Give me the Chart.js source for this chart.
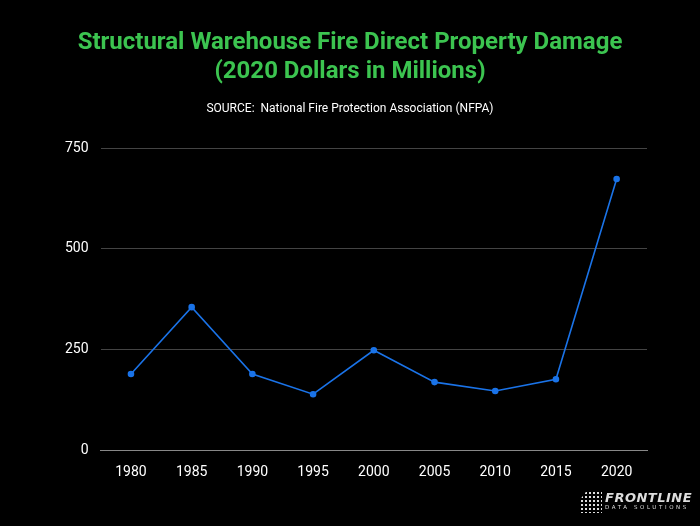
<!DOCTYPE html>
<html><head><meta charset="utf-8">
<script src="https://cdn.jsdelivr.net/npm/chart.js@4"></script>
<style>
html,body{margin:0;padding:0;background:#000;width:700px;height:526px;overflow:hidden}
#wrap{position:absolute;left:0;top:0;width:700px;height:526px}
#logo{position:absolute;left:605px;top:490px;color:#ddd;font-family:'DejaVu Sans',sans-serif}
#logo .a{font-size:13px;font-weight:bold;letter-spacing:0.5px;font-style:italic}
#logo .b{font-size:5.5px;letter-spacing:2.6px;margin-top:-1px}
#dots{position:absolute;left:580px;top:491px;width:22px;height:22px;
background-image:radial-gradient(#ddd 1.1px,transparent 1.4px);background-size:4px 4px;
clip-path:polygon(30% 0,100% 0,100% 100%,0 100%,0 40%)}
</style></head><body>
<div id="wrap"><canvas id="c" width="700" height="526"></canvas></div>
<div id="dots"></div>
<div id="logo"><div class="a">FRONTLINE</div><div class="b">DATA SOLUTIONS</div></div>
<script>
const years=['1980','1985','1990','1995','2000','2005','2010','2015','2020'];
const damage=[189,355,189,139,248,169,147,176,673];
const yTicks=[0,250,500,750];
new Chart(document.getElementById('c'),{
type:'line',
data:{labels:years,datasets:[{data:damage,borderColor:'#1a73e8',backgroundColor:'#1a73e8',borderWidth:1.6,pointRadius:2.5,pointHoverRadius:2.5,tension:0}]},
options:{responsive:false,animation:false,
layout:{padding:{left:53,right:53,top:0,bottom:39}},
plugins:{legend:{display:false},tooltip:{enabled:false},
title:{display:true,text:['Structural Warehouse Fire Direct Property Damage','(2020 Dollars in Millions)'],color:'#3cc450',font:{family:'Roboto',size:24,weight:'bold'},padding:{top:29,bottom:6},lineHeight:1.33},
subtitle:{display:true,text:'SOURCE:  National Fire Protection Association (NFPA)',color:'#fff',font:{family:'Roboto',size:12},padding:{top:9,bottom:32}}},
scales:{
x:{offset:true,grid:{display:false},border:{color:'#888'},ticks:{color:'#fff',font:{family:'Roboto',size:14},padding:6}},
y:{min:0,max:750,afterBuildTicks:a=>{a.ticks=yTicks.map(v=>({value:v}));},grid:{color:'#444',drawTicks:false},border:{display:false},ticks:{color:'#fff',font:{family:'Roboto',size:14},padding:12}}
}}});
</script>
</body></html>
